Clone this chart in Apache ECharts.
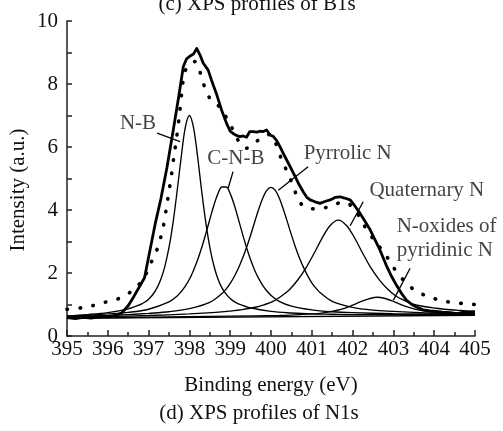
<!DOCTYPE html>
<html><head><meta charset="utf-8">
<script src="https://cdn.jsdelivr.net/npm/echarts@6/dist/echarts.min.js"></script>
<style>html,body{margin:0;padding:0;background:#fff}#c{width:503px;height:431px}</style>
</head><body><div id="c"></div>
<script>
// ---- data ----
const xTickValues = [395,396,397,398,399,400,401,402,403,404,405];
const yTickValues = [0,2,4,6,8,10];

// experimental spectrum (thick line)
const expE = [395.0,395.2,395.4,395.6,395.8,396.0,396.2,396.35,396.5,396.65,396.8,396.9,397.03,397.16,397.3,397.45,397.6,397.75,397.85,397.93,398.03,398.1,398.18,398.26,398.34,398.46,398.54,398.66,398.79,398.91,399.0,399.07,399.16,399.24,399.32,399.4,399.48,399.56,399.65,399.73,399.81,399.89,399.98,400.06,400.14,400.22,400.3,400.42,400.55,400.67,400.79,400.88,400.96,401.08,401.2,401.32,401.45,401.57,401.69,401.8,401.94,402.06,402.18,402.3,402.43,402.55,402.67,402.84,402.96,403.08,403.2,403.32,403.45,403.6,403.73,403.9,404.05,404.2,404.4,404.55,404.7,404.85,405.0];
const expI = [0.58,0.55,0.59,0.57,0.62,0.61,0.66,0.74,0.96,1.28,1.62,1.85,2.7,3.55,4.35,5.35,6.5,7.7,8.55,8.8,8.9,8.95,9.13,8.92,8.66,8.44,8.13,7.7,7.17,6.75,6.5,6.43,6.36,6.33,6.35,6.31,6.49,6.49,6.47,6.5,6.49,6.54,6.38,6.33,6.2,6.01,5.8,5.5,5.17,4.85,4.58,4.4,4.32,4.26,4.21,4.27,4.32,4.4,4.42,4.38,4.32,4.12,3.9,3.65,3.37,3.05,2.73,2.2,1.88,1.6,1.35,1.14,1.0,0.9,0.83,0.8,0.78,0.76,0.74,0.71,0.75,0.76,0.77];

// fitted envelope (dotted line)
const fitE = [395.0,395.37,395.68,395.98,396.29,396.59,396.87,397.03,397.17,397.28,397.36,397.44,397.5,397.56,397.62,397.69,397.75,397.81,397.87,397.95,398.05,398.14,398.22,398.3,398.38,398.5,398.65,398.79,398.9,399.0,399.1,399.2,399.3,399.4,399.55,399.69,399.85,399.98,400.12,400.26,400.42,400.55,400.67,400.8,400.96,401.15,401.35,401.55,401.75,401.9,402.02,402.14,402.3,402.55,402.79,402.99,403.24,403.4,403.57,403.86,404.18,404.49,404.79,405.0];
const fitI = [0.85,0.9,0.98,1.09,1.2,1.43,1.8,2.25,2.62,3.05,3.47,4.1,4.6,5.11,5.7,6.33,6.95,7.7,8.3,8.55,8.68,8.71,8.55,8.2,7.88,7.55,7.4,7.17,6.95,6.72,6.45,6.2,6.02,5.96,6.08,6.22,6.35,6.4,6.1,5.6,5.15,4.74,4.32,4.12,4.05,4.03,4.08,4.17,4.25,4.2,4.05,3.84,3.47,3.0,2.62,2.2,1.78,1.58,1.41,1.25,1.12,1.06,1.02,1.0];

// component N-B
const nbE = [395.0,395.5,396.0,396.5,396.8,396.9,397.0,397.1,397.2,397.3,397.4,397.5,397.6,397.7,397.8,397.9,398.0,398.1,398.2,398.3,398.4,398.5,398.6,398.7,398.8,398.9,399.0,399.1,399.2,399.5,400.0,400.5,401.0,401.5,402.0,403.0,404.0,405.0];
const nbI = [0.64,0.68,0.74,0.86,1.0,1.07,1.17,1.31,1.51,1.8,2.22,2.81,3.61,4.61,5.69,6.62,7.0,6.62,5.7,4.61,3.62,2.82,2.23,1.81,1.52,1.33,1.19,1.09,1.02,0.89,0.78,0.73,0.7,0.69,0.68,0.68,0.68,0.68];

// component C-N-B
const cnbE = [395.0,395.5,396.0,396.5,397.0,397.5,397.7,397.8,397.9,398.0,398.1,398.2,398.3,398.4,398.5,398.6,398.7,398.8,398.9,399.0,399.1,399.2,399.3,399.4,399.5,399.6,399.7,399.8,399.9,400.0,400.2,400.5,401.0,401.5,402.0,403.0,404.0,405.0];
const cnbI = [0.63,0.66,0.7,0.75,0.85,1.08,1.27,1.41,1.58,1.8,2.08,2.41,2.8,3.24,3.7,4.15,4.52,4.73,4.73,4.52,4.16,3.71,3.25,2.81,2.42,2.09,1.82,1.6,1.43,1.29,1.1,0.95,0.83,0.77,0.74,0.71,0.7,0.7];

// component pyrrolic N
const pyrE = [395.0,396.0,396.5,397.0,397.5,398.0,398.5,398.8,398.9,399.0,399.1,399.2,399.3,399.4,399.5,399.6,399.7,399.8,399.9,400.0,400.1,400.2,400.3,400.4,400.5,400.6,400.7,400.8,400.9,401.0,401.1,401.2,401.5,402.0,402.5,403.0,403.5,404.0,405.0];
const pyrI = [0.62,0.65,0.68,0.72,0.77,0.87,1.07,1.35,1.49,1.67,1.89,2.15,2.46,2.81,3.2,3.62,4.03,4.38,4.63,4.72,4.63,4.39,4.03,3.63,3.21,2.82,2.47,2.17,1.91,1.69,1.52,1.38,1.1,0.91,0.82,0.78,0.75,0.73,0.72];

// component quaternary N
const quatE = [395.0,396.0,397.0,398.0,398.65,399.05,399.25,399.65,399.85,400.05,400.25,400.45,400.65,400.85,401.05,401.25,401.45,401.65,401.85,402.05,402.25,402.45,402.65,402.85,403.05,403.25,403.45,403.65,404.05,404.25,404.65,405.0];
const quatI = [0.6,0.62,0.65,0.7,0.75,0.8,0.83,0.92,1.0,1.1,1.26,1.47,1.77,2.15,2.61,3.1,3.51,3.68,3.51,3.11,2.62,2.16,1.79,1.5,1.28,1.14,1.03,0.96,0.88,0.85,0.81,0.78];

// component N-oxides of pyridinic N
const noxE = [395.0,397.0,399.0,400.2,400.6,401.0,401.2,401.4,401.6,401.8,402.0,402.2,402.4,402.6,402.8,403.0,403.2,403.4,403.6,403.8,404.0,404.2,404.6,405.0];
const noxI = [0.57,0.6,0.63,0.65,0.67,0.7,0.72,0.76,0.81,0.88,0.98,1.09,1.18,1.23,1.19,1.1,0.99,0.9,0.83,0.78,0.75,0.73,0.71,0.7];

// straight background line
const baseE = [395.0,405.0];
const baseI = [0.56,0.66];

// annotations: label anchor (data coords) and leader lines
const labelTexts = ['N-B','C-N-B','Pyrrolic N','Quaternary N','N-oxides of\npyridinic N'];
const labelE = [396.74,399.14,401.88,403.82,403.08];
const labelI = [6.76,5.65,5.78,4.63,3.08];
const leadStartE = [397.21,399.07,400.91,402.26,403.41];
const leadStartI = [6.44,5.22,5.37,4.26,2.15];
const leadEndE = [397.77,398.95,400.18,401.94,403.0];
const leadEndI = [6.17,4.69,4.63,3.5,1.14];

// ---- chart ----
const FONT = '"Liberation Serif","Times New Roman",serif';
const INK = '#111';
const zip = (a, b) => a.map((v, i) => [v, b[i]]);
const thin = (name, E, I) => ({
  name, type: 'line', data: zip(E, I), smooth: 0.35, symbol: 'none',
  lineStyle: { color: '#000', width: 1.35 }, z: 2, silent: true
});

const series = [
  thin('N-B', nbE, nbI),
  thin('C-N-B', cnbE, cnbI),
  thin('Pyrrolic N', pyrE, pyrI),
  thin('Quaternary N', quatE, quatI),
  thin('N-oxides', noxE, noxI),
  thin('Background', baseE, baseI),
  {
    name: 'Fit', type: 'line', data: zip(fitE, fitI), smooth: 0.3, symbol: 'none', z: 3,
    lineStyle: { color: '#000', width: 3.6, type: [0.5, 12.5], cap: 'round' }
  },
  {
    name: 'Experimental', type: 'line', data: zip(expE, expI), smooth: false, symbol: 'none', z: 4,
    lineStyle: { color: '#000', width: 2.8, join: 'round' }
  }
];
for (let i = 0; i < labelTexts.length; i++) {
  series.push({
    type: 'line', symbol: 'none', z: 5, silent: true,
    data: [[leadStartE[i], leadStartI[i]], [leadEndE[i], leadEndI[i]]],
    lineStyle: { color: '#000', width: 1.3 }
  });
}
series.push({
  type: 'scatter', symbolSize: 1, z: 6, silent: true,
  itemStyle: { color: 'rgba(0,0,0,0)' },
  data: labelTexts.map((t, i) => ({
    value: [labelE[i], labelI[i]], name: t,
    label: i === 4 ? { align: 'left' } : {}
  })),
  label: {
    show: true, position: 'inside', formatter: p => p.name,
    fontFamily: FONT, fontSize: 21, color: INK, lineHeight: 24
  }
});

const axisStyle = { color: '#222', width: 1.5 };
const option = {
  animation: false,
  backgroundColor: '#fff',
  grid: { left: 67, right: 28, top: 21, bottom: 95, containLabel: false },
  xAxis: {
    type: 'value', min: 395, max: 405, interval: 1,
    axisLine: { show: true, lineStyle: axisStyle },
    axisTick: { show: true, inside: true, length: 6, lineStyle: axisStyle },
    minorTick: { show: true, splitNumber: 2, length: 4, lineStyle: axisStyle },
    splitLine: { show: false },
    axisLabel: {
      fontFamily: FONT, fontSize: 21, color: INK, margin: 3,
      formatter: v => (xTickValues.indexOf(v) >= 0 ? String(v) : '')
    }
  },
  yAxis: {
    type: 'value', min: 0, max: 10, interval: 2,
    axisLine: { show: true, lineStyle: axisStyle },
    axisTick: { show: true, inside: true, length: 5, lineStyle: axisStyle },
    minorTick: { show: true, splitNumber: 2, length: 5, lineStyle: axisStyle },
    splitLine: { show: false },
    axisLabel: {
      fontFamily: FONT, fontSize: 21, color: INK, margin: 9, padding: [8, 0, 0, 0],
      formatter: v => (yTickValues.indexOf(v) >= 0 ? String(v) : '')
    }
  },
  graphic: [
    { type: 'text', x: 257, y: 4, silent: true,
      style: { text: '(c) XPS profiles of B1s', font: '21px ' + FONT, fill: INK, align: 'center', verticalAlign: 'middle' } },
    { type: 'text', x: 271, y: 385, silent: true,
      style: { text: 'Binding energy (eV)', font: '21px ' + FONT, fill: INK, align: 'center', verticalAlign: 'middle' } },
    { type: 'text', x: 259, y: 413, silent: true,
      style: { text: '(d) XPS profiles of N1s', font: '21px ' + FONT, fill: INK, align: 'center', verticalAlign: 'middle' } },
    { type: 'text', x: 18, y: 190, rotation: Math.PI / 2, silent: true,
      style: { text: 'Intensity (a.u.)', font: '21px ' + FONT, fill: INK, align: 'center', verticalAlign: 'middle' } }
  ],
  series
};
const chart = echarts.init(document.getElementById('c'));
chart.setOption(option);
</script>
</body></html>
